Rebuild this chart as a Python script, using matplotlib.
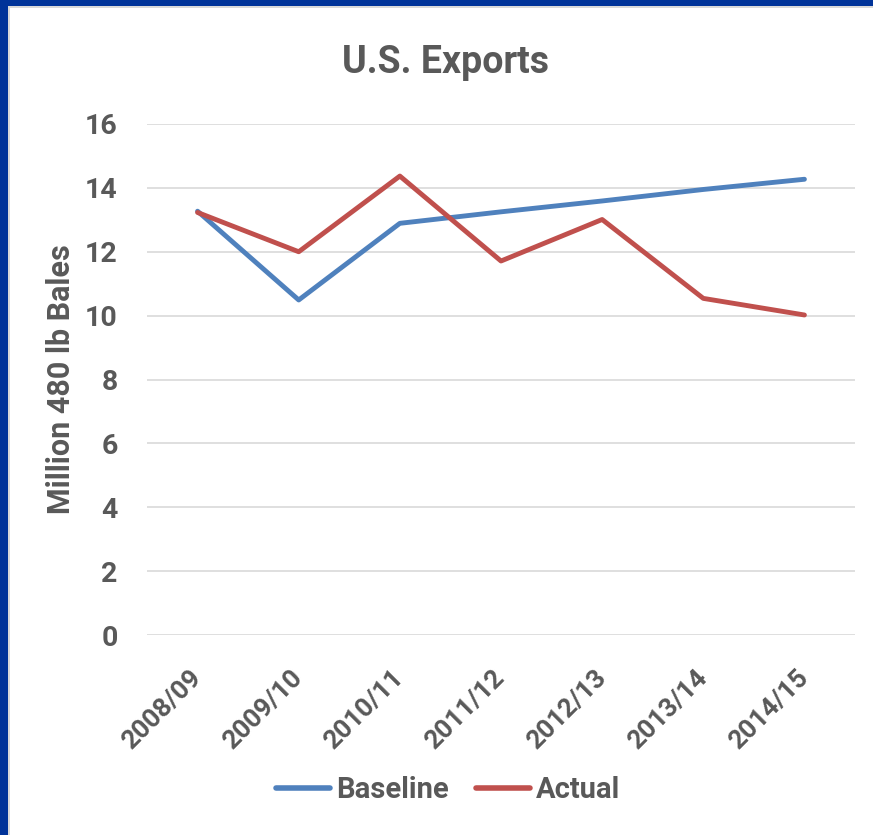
import matplotlib.pyplot as plt
from matplotlib.patches import Rectangle

plt.rcParams['font.family'] = ['Roboto', 'DejaVu Sans']

seasons = ['2008/09', '2009/10', '2010/11', '2011/12', '2012/13', '2013/14', '2014/15']
baseline = [13.27, 10.49, 12.89, 13.25, 13.59, 13.95, 14.27]
actual = [13.23, 12.0, 14.37, 11.71, 13.01, 10.54, 10.02]

text_gray = '#595959'
blue = '#4f81bd'
red = '#c0504d'

fig = plt.figure(figsize=(8.73, 8.35), dpi=100)
fig.patch.set_facecolor('white')

# dark blue frame on the left and top, as in the slide
fig.add_artist(Rectangle((0, 0), 8 / 873, 1, transform=fig.transFigure,
                         facecolor='#003399', edgecolor='none', zorder=0))
fig.add_artist(Rectangle((0, 1 - 6 / 835), 1, 6 / 835, transform=fig.transFigure,
                         facecolor='#003399', edgecolor='none', zorder=0))
fig.add_artist(Rectangle((8 / 873, 0), 2 / 873, 1 - 6 / 835, transform=fig.transFigure,
                         facecolor='#d9d9d9', edgecolor='none', zorder=0))
fig.add_artist(Rectangle((8 / 873, 1 - 8 / 835), 1, 2 / 835, transform=fig.transFigure,
                         facecolor='#d9d9d9', edgecolor='none', zorder=0))

ax = fig.add_axes([147 / 873, 1 - 635 / 835, (855 - 147) / 873, (635 - 124) / 835])
x = list(range(len(seasons)))
ax.plot(x, baseline, color=blue, lw=3.5, label='Baseline', solid_capstyle='round')
ax.plot(x, actual, color=red, lw=3.5, label='Actual', solid_capstyle='round')

ax.set_xlim(-0.5, len(seasons) - 0.5)
ax.set_ylim(0, 16)
ax.set_yticks(range(0, 17, 2))
ax.set_xticks(x)
ax.set_xticklabels(seasons, rotation=45, ha='right', va='center', rotation_mode='anchor')
ax.grid(axis='y', color='#d9d9d9', lw=1.2)
ax.set_axisbelow(True)
for s in ax.spines.values():
    s.set_visible(False)
ax.tick_params(axis='y', length=0, labelsize=20.5, labelcolor=text_gray, pad=21)
ax.tick_params(axis='x', length=0, labelsize=19, labelcolor=text_gray, pad=28)
for lab in ax.get_xticklabels() + ax.get_yticklabels():
    lab.set_fontweight('bold')

ax.set_ylabel('Million 480 lb Bales', fontsize=22, fontweight='bold', color=text_gray)
ax.yaxis.set_label_coords((76 - 147) / 708, 0.5)
fig.text(446 / 873, 1 - 73 / 835, 'U.S. Exports', ha='center', va='baseline',
         fontsize=27, fontweight='bold', color=text_gray)

leg = fig.legend(loc='center', bbox_to_anchor=(448 / 873, 1 - 790 / 835), ncol=2,
                 frameon=False, fontsize=21, handlelength=1.86, handletextpad=0.2,
                 columnspacing=0.95)
for t in leg.get_texts():
    t.set_color(text_gray)
    t.set_fontweight('bold')
for h in leg.get_lines():
    h.set_linewidth(4.0)

fig.savefig('out.png', dpi=100)
